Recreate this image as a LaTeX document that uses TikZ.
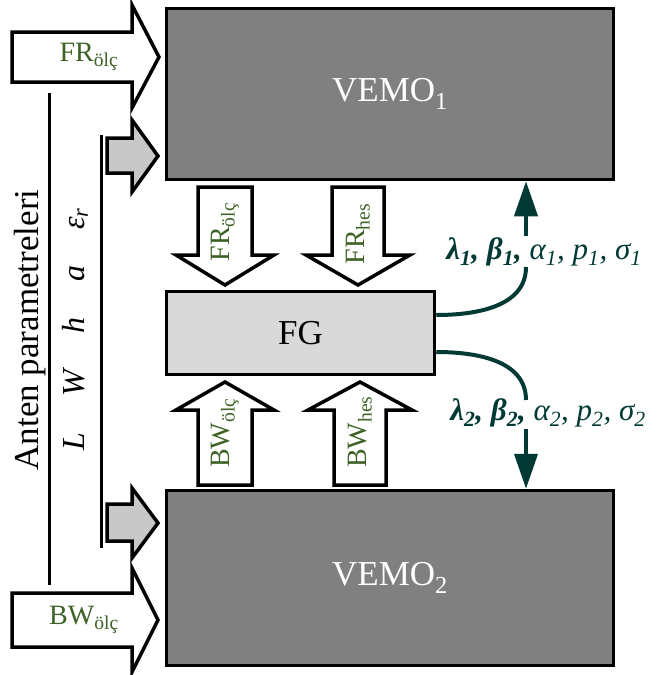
\documentclass[tikz,border=0pt]{standalone}
\usepackage{fontspec}
\setmainfont{Liberation Serif}
\usetikzlibrary{arrows.meta}

\definecolor{vemogray}{HTML}{808080}
\definecolor{fggray}{HTML}{D9D9D9}
\definecolor{inputgray}{HTML}{C8C8C8}
\definecolor{labelgreen}{RGB}{62,98,38}
\definecolor{paramteal}{RGB}{1,58,53}

\begin{document}
\begin{tikzpicture}[
    x=1pt, y=-1pt,
    vemobox/.style={
        draw, line width=3.5pt, fill=vemogray, text=white,
        minimum width=447pt, inner sep=0pt,
        font=\fontsize{35}{40}\selectfont
    },
    fgbox/.style={
        draw, line width=3.5pt, fill=fggray,
        minimum width=268pt, minimum height=83pt, inner sep=0pt,
        font=\fontsize{35}{40}\selectfont
    },
    blockarrow/.style={draw, line width=3.5pt, fill=white},
    grayarrow/.style={draw, line width=3.5pt, fill=inputgray},
    arrowtext/.style={text=labelgreen, inner sep=0pt, font=\fontsize{28}{32}\selectfont},
    paramline/.style={draw=paramteal, line width=4pt},
    paramarrow/.style={paramline, -{Triangle[length=35pt,width=23pt]}},
    paramtext/.style={text=paramteal, inner sep=2pt, font=\fontsize{31}{34}\selectfont\itshape}
]
\useasboundingbox (0,0) rectangle (660,675);

% Boxes
\node[vemobox, minimum height=171pt] (vemo1) at (390,94)  {VEMO\textsubscript{1}};
\node[vemobox, minimum height=175pt] (vemo2) at (390,578) {VEMO\textsubscript{2}};
\node[fgbox] (fg) at (300.5,333) {FG};

% Inputs on the left
\draw[blockarrow] (12,32) -- (132,32) -- (132,5) -- (159,57) -- (132,108) -- (132,82) -- (12,82) -- cycle;
\draw[blockarrow] (12,593) -- (132,593) -- (132,568) -- (158,620) -- (132,672) -- (132,647) -- (12,647) -- cycle;
\draw[grayarrow] (107,138) -- (132,138) -- (132,120) -- (158,156) -- (132,192) -- (132,173) -- (107,173) -- cycle;
\draw[grayarrow] (107,504) -- (132,504) -- (132,488) -- (158,523) -- (132,558) -- (132,541) -- (107,541) -- cycle;

\node[arrowtext] (frolcin) at (89,57)  {FR\textsubscript{ölç}};
\node[arrowtext] (bwolcin) at (84,620) {BW\textsubscript{ölç}};

\draw[line width=3pt] (49,93) -- (49,585);
\draw[line width=3pt] (101,135) -- (101,548);

\node[rotate=90, inner sep=0pt, font=\fontsize{35}{40}\selectfont] (anten) at (30,330) {Anten parametreleri};
\node[rotate=90, inner sep=0pt, font=\fontsize{32}{36}\selectfont\itshape] (antenvars) at (75,329)
    {L\hspace{36pt}W\hspace{36pt}h\hspace{36pt}a\hspace{36pt}ε\textsubscript{r}};

% Middle arrows
\draw[blockarrow] (198,187) -- (252,187) -- (252,255) -- (274,255) -- (225,285) -- (176,255) -- (198,255) -- cycle;
\draw[blockarrow] (332,187) -- (384,187) -- (384,255) -- (410,255) -- (358,285) -- (306,255) -- (332,255) -- cycle;
\draw[blockarrow] (198,485) -- (252,485) -- (252,410) -- (274,410) -- (225,382) -- (176,410) -- (198,410) -- cycle;
\draw[blockarrow] (334,485) -- (386,485) -- (386,410) -- (412,410) -- (360,382) -- (308,410) -- (334,410) -- cycle;

\node[arrowtext, rotate=90] (frolc) at (225,232) {FR\textsubscript{ölç}};
\node[arrowtext, rotate=90] (frhes) at (358,234) {FR\textsubscript{hes}};
\node[arrowtext, rotate=90] (bwolc) at (225,433) {BW\textsubscript{ölç}};
\node[arrowtext, rotate=90] (bwhes) at (360,432) {BW\textsubscript{hes}};

% Parameters out of FG
\node[paramtext] (lam1) at (544,252)
    {\textbf{λ\textsubscript{1}, β\textsubscript{1},} α\textsubscript{1}, p\textsubscript{1}, σ\textsubscript{1}};
\node[paramtext] (lam2) at (548,413)
    {\textbf{λ\textsubscript{2}, β\textsubscript{2},} α\textsubscript{2}, p\textsubscript{2}, σ\textsubscript{2}};

\coordinate (up1) at (526,267);
\coordinate (up2) at (526,400);

\draw[paramline] ([yshift=18pt]fg.east) to[out=0, in=-90] (up1);
\draw[paramline] ([yshift=-19pt]fg.east) to[out=0, in=90] (up2);
\draw[paramarrow] (up1 |- lam1.north) -- (up1 |- vemo1.south);
\draw[paramarrow] (up2 |- lam2.south) -- (up2 |- vemo2.north);

\end{tikzpicture}
\end{document}
